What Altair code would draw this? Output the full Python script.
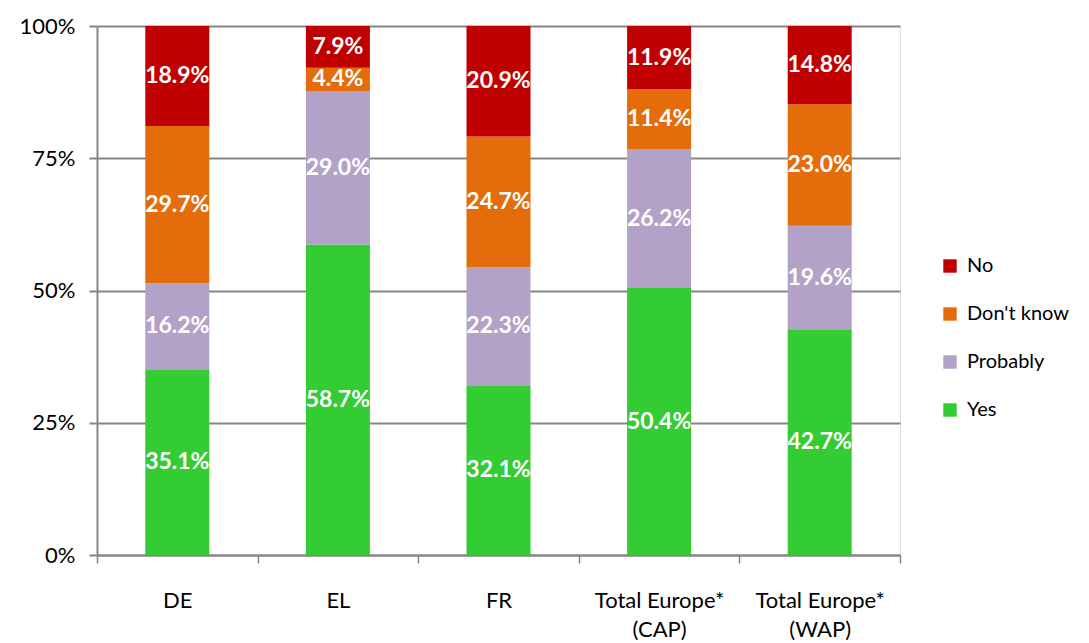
import altair as alt
import pandas as pd

categories = ["DE", "EL", "FR", "Total Europe* (CAP)", "Total Europe* (WAP)"]
answers = ["Yes", "Probably", "Don't know", "No"]
yes_vals = [35.1, 58.7, 32.1, 50.4, 42.7]
probably_vals = [16.2, 29.0, 22.3, 26.2, 19.6]
dontknow_vals = [29.7, 4.4, 24.7, 11.4, 23.0]
no_vals = [18.9, 7.9, 20.9, 11.9, 14.8]
colors = ["#33CC33", "#B3A2C7", "#E46C0A", "#C00000"]

rows = []
for i, c in enumerate(categories):
    for j, (a, vals) in enumerate(zip(answers, [yes_vals, probably_vals, dontknow_vals, no_vals])):
        rows.append({"cat": c, "answer": a, "value": vals[i], "ord": j})
df = pd.DataFrame(rows)

FONT = "Lato"
FS = 22

base = alt.Chart(df).transform_stack(
    stack="value", groupby=["cat"], sort=[{"field": "ord", "order": "ascending"}],
    as_=["y0", "y1"], offset="normalize"
).transform_calculate(mid="(datum.y0 + datum.y1) / 2",
                      lbl="format(datum.value, '.1f') + '%'")

label_expr = ("indexof(datum.label, '(') > 0 ? [substring(datum.label, 0, indexof(datum.label, '(') - 1), "
              "substring(datum.label, indexof(datum.label, '('))] : datum.label")

x_enc = alt.X("cat:N", sort=categories, title=None,
              scale=alt.Scale(paddingInner=0, paddingOuter=0),
              axis=alt.Axis(labelAngle=0, tickBand="extent", tickSize=8, tickColor="#868686",
                            tickWidth=1.5, domainColor="#868686", domainWidth=2, grid=False,
                            labelFont=FONT, labelFontSize=FS, labelColor="#000000",
                            labelPadding=27, labelLineHeight=29, labelExpr=label_expr))

bars = base.mark_bar(size=64).encode(
    x=x_enc,
    y=alt.Y("y0:Q", scale=alt.Scale(domain=[0, 1], nice=False), title=None,
            axis=alt.Axis(values=[0, 0.25, 0.5, 0.75, 1], format=".0%", grid=True,
                          gridColor="#868686", gridWidth=2, tickSize=8, tickColor="#868686",
                          tickWidth=2, domainColor="#868686", domainWidth=2,
                          labelFont=FONT, labelFontSize=FS, labelColor="#000000",
                          labelPadding=14)),
    y2="y1:Q",
    color=alt.Color("answer:N", sort=["No", "Don't know", "Probably", "Yes"],
                    scale=alt.Scale(domain=answers, range=colors),
                    legend=alt.Legend(title=None, orient="none", legendX=843, legendY=230,
                                      symbolType="square", symbolSize=180, symbolStrokeWidth=0,
                                      labelFont=FONT, labelFontSize=20, labelColor="#000000",
                                      rowPadding=28, labelOffset=7,
                                      values=["No", "Don't know", "Probably", "Yes"])),
)

texts = base.mark_text(color="white", fontWeight="bold", font=FONT, fontSize=23,
                       baseline="middle", align="center").encode(
    x=alt.X("cat:N", sort=categories),
    y=alt.Y("mid:Q"),
    text=alt.Text("lbl:N"),
)

chart = (bars + texts).properties(
    width=803, height=529,
    autosize=alt.AutoSizeParams(type="none"),
    padding={"left": 89, "top": 18, "right": 181, "bottom": 85},
).configure_view(stroke="transparent", strokeWidth=0).configure(background="white")

chart.save("out.html", embed_options={"renderer": "svg", "actions": False})
